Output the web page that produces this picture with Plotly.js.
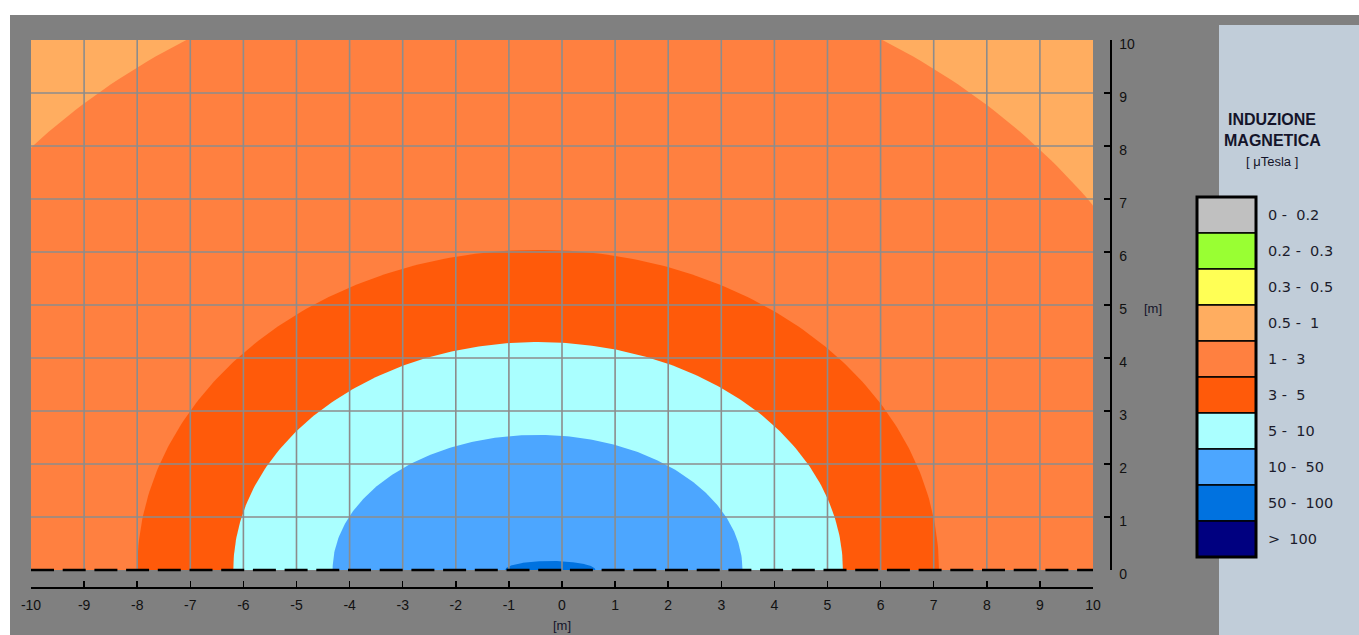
<!DOCTYPE html>
<html><head><meta charset="utf-8">
<script src="https://cdn.plot.ly/plotly-3.0.1.min.js"></script>
<style>html,body{margin:0;padding:0;background:#fff;overflow:hidden}</style>
</head><body><div id="chart" style="width:1359px;height:635px"></div>
<script>
// ---- data ----
const xTickVals = [-10,-9,-8,-7,-6,-5,-4,-3,-2,-1,0,1,2,3,4,5,6,7,8,9,10];
const yTickVals = [0,1,2,3,4,5,6,7,8,9,10];
const legendLabels = ['0 -  0.2','0.2 -  0.3','0.3 -  0.5','0.5 -  1','1 -  3','3 -  5','5 -  10','10 -  50','50 -  100','>  100'];
const legendColors = ['#c0c0c0','#99ff33','#ffff55','#ffad60','#ff8040','#ff5a0a','#aaffff','#4ca6ff','#0072e0','#000080'];
// iso-field boundaries (lower bound of each band), semi-elliptic around the line axis
const bandNames = ['1 - 3','3 - 5','5 - 10','10 - 50','50 - 100'];
const bandCenterX = [-0.52,-0.45,-0.45,-0.46,-0.22];
const bandHalfWidth = [13.1,7.55,5.74,3.86,0.85];
const bandHeight = [11.55,6.04,4.30,2.55,0.17];
const bandColors = ['#ff8040','#ff5a0a','#aaffff','#4ca6ff','#0072e0'];
const outerBandColor = '#ffad60';

// ---- layout geometry ----
const W = 1359, H = 635, L = 31, R = 249, T = 40, B = 48;
const PW = W - L - R, PH = H - T - B;
const px = p => (p - L) / PW;
const py = p => (H - B - p) / PH;
const NS = '\u00a0';
const txt = s => s.replace(/ /g, NS);

const traces = [];
bandNames.forEach((name, i) => {
  const xs = [], ys = [];
  const N = 240;
  for (let k = 0; k <= N; k++) {
    const t = Math.PI * k / N;
    xs.push(bandCenterX[i] + bandHalfWidth[i] * Math.cos(t));
    ys.push(bandHeight[i] * Math.sin(t));
  }
  traces.push({type:'scatter', mode:'lines', x:xs, y:ys, fill:'toself',
    fillcolor:bandColors[i], line:{width:0, color:bandColors[i]}, name:name, hoverinfo:'skip'});
});
// grid drawn above the filled bands
const gx = [], gy = [];
xTickVals.slice(1, -1).forEach(v => { gx.push(v, v, null); gy.push(0, 10, null); });
yTickVals.slice(1, -1).forEach(v => { gx.push(-10, 10, null); gy.push(v, v, null); });
traces.push({type:'scatter', mode:'lines', x:gx, y:gy, line:{color:'#8c8c8c', width:1.6}, hoverinfo:'skip', connectgaps:false});

const shapes = [
  {type:'rect', xref:'paper', yref:'paper', x0:px(0), x1:px(W), y0:py(15), y1:py(0), fillcolor:'#ffffff', line:{width:0}, layer:'below'},
  {type:'rect', xref:'paper', yref:'paper', x0:px(0), x1:px(10), y0:py(H), y1:py(15), fillcolor:'#ffffff', line:{width:0}, layer:'below'},
  {type:'rect', xref:'paper', yref:'paper', x0:px(1219), x1:px(W), y0:py(H), y1:py(25), fillcolor:'#c1cdd9', line:{width:0}, layer:'below'},
  {type:'line', xref:'x domain', yref:'y domain', x0:0, x1:1, y0:0, y1:0, line:{color:'#000', width:2.5, dash:'23px,8.7px'}}
];
const annotations = [];
const lblFont = {family:'DejaVu Sans, Verdana', size:14.5, color:'#1c1c2c'};
const boxTop = 197, boxH = 36, boxL = 1197, boxR = 1256;
legendLabels.forEach((lab, i) => {
  const t = boxTop + i * boxH;
  shapes.push({type:'rect', xref:'paper', yref:'paper', x0:px(boxL), x1:px(boxR), y0:py(t + boxH), y1:py(t),
    fillcolor:legendColors[i], line:{color:'#000', width:1.5}});
  annotations.push({xref:'paper', yref:'paper', x:px(1266), y:py(t + boxH/2), xanchor:'left', yanchor:'middle',
    text:txt(lab), showarrow:false, font:lblFont});
});
shapes.push({type:'rect', xref:'paper', yref:'paper', x0:px(boxL), x1:px(boxR), y0:py(boxTop + 10*boxH), y1:py(boxTop),
  fillcolor:'rgba(0,0,0,0)', line:{color:'#000', width:3}});
const ttlFont = {family:'Liberation Sans, Arial', size:16, color:'#14142a'};
annotations.push(
  {xref:'paper', yref:'paper', x:px(1272), y:py(119), xanchor:'center', yanchor:'middle', showarrow:false,
   text:'<b>INDUZIONE</b>', font:ttlFont},
  {xref:'paper', yref:'paper', x:px(1272), y:py(140), xanchor:'center', yanchor:'middle', showarrow:false,
   text:'<b>MAGNETICA</b>', font:ttlFont},
  {xref:'paper', yref:'paper', x:px(1272), y:py(161), xanchor:'center', yanchor:'middle', showarrow:false,
   text:txt('[ μTesla ]'), font:{family:'Liberation Sans, Arial', size:13, color:'#14142a'}},
  {xref:'paper', yref:'paper', x:px(1153), y:py(308), xanchor:'center', yanchor:'middle', showarrow:false,
   text:'[m]', font:{family:'Liberation Sans, Arial', size:13, color:'#14142a'}},
  {xref:'paper', yref:'paper', x:px(562), y:py(625), xanchor:'center', yanchor:'middle', showarrow:false,
   text:'[m]', font:{family:'Liberation Sans, Arial', size:13, color:'#14142a'}}
);

const tickFont = {family:'Liberation Sans, Arial', size:14, color:'#111'};
const layout = {
  width:W, height:H, margin:{l:L, r:R, t:T, b:B, pad:0},
  paper_bgcolor:'#808080', plot_bgcolor:outerBandColor, showlegend:false,
  xaxis:{range:[-10,10], domain:[0, (1093 - L)/PW], anchor:'free', position:0,
    tickvals:xTickVals, ticktext:xTickVals.map(String), ticks:'inside', ticklen:6, tickwidth:1.5, tickcolor:'#000',
    showline:true, linecolor:'#000', linewidth:1.5, showgrid:false, zeroline:false, tickfont:tickFont,
    ticklabelstandoff:5, automargin:false, fixedrange:true},
  yaxis:{range:[0,10], domain:[py(570), 1], anchor:'free', position:1, side:'right',
    tickvals:yTickVals, ticktext:yTickVals.map(String), ticks:'inside', ticklen:6, tickwidth:1.5, tickcolor:'#000',
    showline:true, linecolor:'#000', linewidth:1.5, showgrid:false, zeroline:false, tickfont:tickFont,
    ticklabelstandoff:5, ticklabelshift:4, automargin:false, fixedrange:true},
  shapes:shapes, annotations:annotations
};
Plotly.newPlot('chart', traces, layout, {staticPlot:true, displayModeBar:false});
</script></body></html>
